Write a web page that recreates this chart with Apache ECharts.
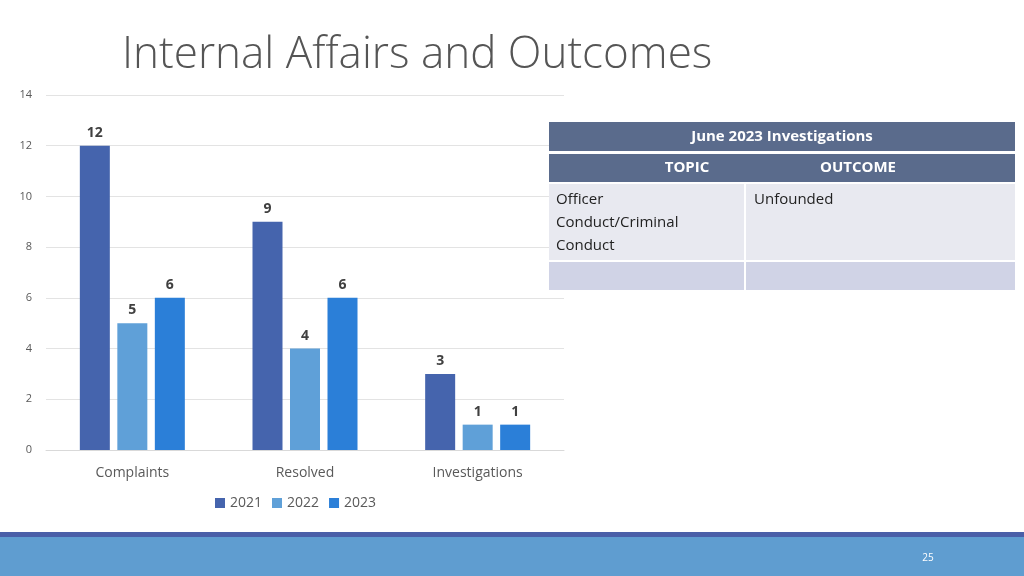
<!DOCTYPE html>
<html><head><meta charset="utf-8">
<script src="https://cdn.jsdelivr.net/npm/echarts@6/dist/echarts.min.js"></script>
<style>html,body{margin:0;padding:0;background:#fff;}#c{width:1024px;height:576px;}</style>
</head><body><div id="c"></div>
<script>
const categories = ['Complaints', 'Resolved', 'Investigations'];
const years = ['2021', '2022', '2023'];
const values2021 = [12, 9, 3];
const values2022 = [5, 4, 1];
const values2023 = [6, 6, 1];
const yTicks = [0, 2, 4, 6, 8, 10, 12, 14];
const tableTitle = 'June 2023 Investigations';
const tableHeaders = ['TOPIC', 'OUTCOME'];
const tableRow = ['Officer\nConduct/Criminal\nConduct', 'Unfounded'];

const colors = ['#4564ad', '#5fa0d8', '#2b7fd8'];
const font = 'Open Sans';
const chart = echarts.init(document.getElementById('c'));
const seriesData = [values2021, values2022, values2023];

const tx = 549, tw = 466, colX = 745;
const G = (o) => Object.assign({ z: 100 }, o);
chart.setOption({
  animation: false,
  title: { text: 'Internal Affairs and Outcomes', left: 117, top: 28,
    textStyle: { fontFamily: font, fontWeight: 300, fontSize: 44, color: '#555555' } },
  grid: { left: 46, right: 460, top: 95, bottom: 126 },
  legend: { data: years, bottom: 61, left: 210, itemWidth: 10, itemHeight: 10, itemGap: 10, icon: 'rect',
    textStyle: { fontFamily: font, fontSize: 14, color: '#595959' } },
  xAxis: { type: 'category', data: categories,
    axisLine: { lineStyle: { color: '#d9d9d9' } }, axisTick: { show: false },
    axisLabel: { fontFamily: font, fontSize: 14, color: '#595959', margin: 16 } },
  yAxis: { type: 'value', min: 0, max: 14, interval: 2,
    axisLine: { show: false }, axisTick: { show: false },
    splitLine: { lineStyle: { color: '#e3e3e3' } },
    axisLabel: { fontFamily: font, fontSize: 11, color: '#595959', margin: 14,
      formatter: v => yTicks.includes(v) ? String(v) : '' } },
  series: years.map((y, i) => ({
    name: y, type: 'bar', data: seriesData[i], barWidth: 30, barGap: '25%',
    itemStyle: { color: colors[i] },
    label: { show: true, position: 'top', distance: 6, fontFamily: font, fontWeight: 'bold', fontSize: 14, color: '#404040' }
  })),
  graphic: [
    G({ type: 'rect', shape: { x: tx, y: 122, width: tw, height: 29 }, style: { fill: '#5a6b8c' } }),
    G({ type: 'text', style: { x: tx + tw / 2, y: 137, text: tableTitle, fill: '#fff', font: 'bold 15px "Open Sans"', align: 'center', verticalAlign: 'middle' } }),
    G({ type: 'rect', shape: { x: tx, y: 154, width: tw, height: 28 }, style: { fill: '#5a6b8c' } }),
    G({ type: 'text', style: { x: 687, y: 168, text: tableHeaders[0], fill: '#fff', font: 'bold 15px "Open Sans"', align: 'center', verticalAlign: 'middle' } }),
    G({ type: 'text', style: { x: 858, y: 168, text: tableHeaders[1], fill: '#fff', font: 'bold 15px "Open Sans"', align: 'center', verticalAlign: 'middle' } }),
    G({ type: 'rect', shape: { x: tx, y: 184, width: colX - tx - 1, height: 76 }, style: { fill: '#e8e9f0' } }),
    G({ type: 'rect', shape: { x: colX + 1, y: 184, width: tx + tw - colX - 1, height: 76 }, style: { fill: '#e8e9f0' } }),
    G({ type: 'rect', shape: { x: tx, y: 262, width: colX - tx - 1, height: 28 }, style: { fill: '#d0d3e6' } }),
    G({ type: 'rect', shape: { x: colX + 1, y: 262, width: tx + tw - colX - 1, height: 28 }, style: { fill: '#d0d3e6' } }),
    G({ type: 'text', style: { x: 556, y: 188, text: tableRow[0], fill: '#222', font: '15px "Open Sans"', lineHeight: 23 } }),
    G({ type: 'text', style: { x: 754, y: 188, text: tableRow[1], fill: '#222', font: '15px "Open Sans"', lineHeight: 23 } }),
    G({ type: 'rect', shape: { x: 0, y: 532, width: 1024, height: 5 }, style: { fill: '#4a5fa8' } }),
    G({ type: 'rect', shape: { x: 0, y: 537, width: 1024, height: 39 }, style: { fill: '#5f9dd0' } }),
    G({ type: 'text', style: { x: 928, y: 558, text: '25', fill: '#fff', font: '10px "Open Sans"', align: 'center', verticalAlign: 'middle' } })
  ]
});
</script></body></html>
